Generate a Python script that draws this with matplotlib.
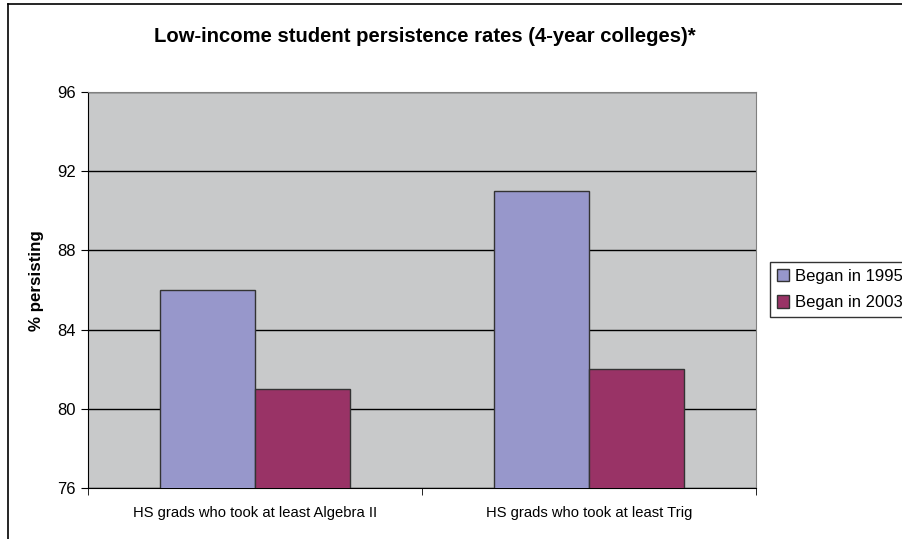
import numpy as np
import matplotlib.pyplot as plt
from matplotlib.lines import Line2D

plt.rcParams["font.family"] = ["Liberation Sans", "DejaVu Sans"]

categories = ["HS grads who took at least Algebra II", "HS grads who took at least Trig"]
series_names = ["Began in 1995", "Began in 2003"]
began_1995 = [86, 91]
began_2003 = [81, 82]
colors = ["#9797CB", "#993366"]

fig = plt.figure(figsize=(9.02, 5.39), dpi=100)
ax = fig.add_axes([88 / 902, 1 - 488 / 539, (756 - 88) / 902, (488 - 92) / 539])

# outer chart border (top and left visible)
fig.add_artist(Line2D([8 / 902, 8 / 902], [0, 1 - 4 / 539], transform=fig.transFigure,
                      color="black", lw=1.2))
fig.add_artist(Line2D([8 / 902, 1], [1 - 4 / 539, 1 - 4 / 539], transform=fig.transFigure,
                      color="black", lw=1.2))

x = np.arange(len(categories))
w = 1 / 3.5
ax.set_facecolor("#C8C9CA")
ax.bar(x - w / 2, began_1995, w, color=colors[0], edgecolor="#333333",
       linewidth=1, label=series_names[0], zorder=3)
ax.bar(x + w / 2, began_2003, w, color=colors[1], edgecolor="#333333",
       linewidth=1, label=series_names[1], zorder=3)

ax.set_ylim(76, 96)
ax.set_xlim(-0.5, 1.5)
ax.set_yticks(np.arange(76, 97, 4))
ax.yaxis.grid(True, color="black", linewidth=1, zorder=1)
ax.set_axisbelow(True)

ax.set_xticks(x)
ax.set_xticklabels(categories, fontsize=10.6)
ax.set_xticks([-0.5, 0.5, 1.5], minor=True)
ax.tick_params(axis="x", which="major", length=0, pad=13)
ax.tick_params(axis="x", which="minor", length=5, direction="out", color="black")
ax.tick_params(axis="y", length=5, direction="out", labelsize=12, pad=4)

for s in ["top", "right"]:
    ax.spines[s].set_color("#808080")
for s in ["left", "bottom"]:
    ax.spines[s].set_color("black")

fig.text(425 / 902, 1 - 37 / 539, "Low-income student persistence rates (4-year colleges)*",
         ha="center", va="center", fontsize=14.6, fontweight="bold")
fig.text(37 / 902, 1 - 281 / 539, "% persisting", rotation=90, ha="center", va="center",
         fontsize=12.2, fontweight="bold")

leg = fig.legend(loc="upper left", bbox_to_anchor=(770 / 902, 1 - 262 / 539),
                 frameon=True, fancybox=False, edgecolor="black", fontsize=12,
                 handlelength=0.75, handleheight=0.75, handletextpad=0.35,
                 borderpad=0.4, labelspacing=0.7, borderaxespad=0)
leg.get_frame().set_linewidth(1)

fig.savefig("out.png", dpi=100)
